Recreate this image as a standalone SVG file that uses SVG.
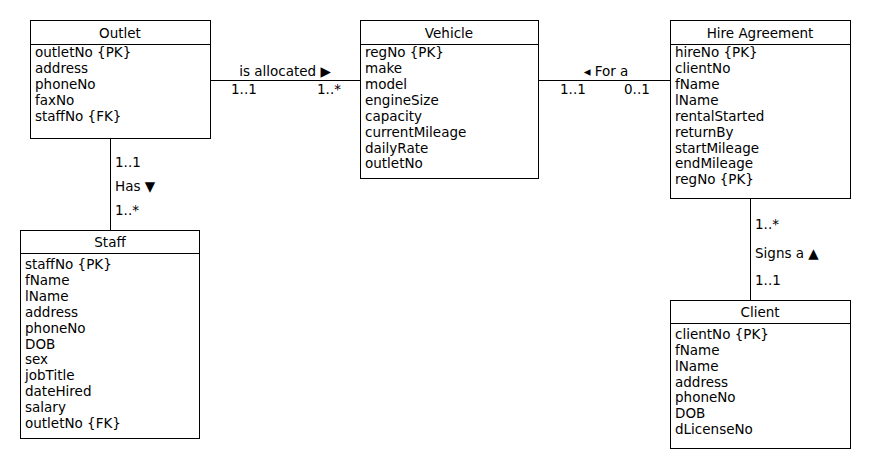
<svg xmlns="http://www.w3.org/2000/svg" width="870" height="470" viewBox="0 0 870 470">
<style>
  .box { fill: #ffffff; stroke: #000000; stroke-width: 1; }
  .ln { stroke: #000000; stroke-width: 1; fill: none; }
  text { font-family: "DejaVu Sans", "Liberation Sans", sans-serif; font-size: 13.5px; fill: #000000; }
  .t { text-anchor: middle; }
</style>
<rect width="870" height="470" fill="#ffffff"/>
<g id="connectors">
  <line class="ln" x1="210" y1="80.5" x2="360" y2="80.5"/>
  <line class="ln" x1="538" y1="80.5" x2="670" y2="80.5"/>
  <line class="ln" x1="110.5" y1="139" x2="110.5" y2="230"/>
  <line class="ln" x1="750.5" y1="198" x2="750.5" y2="300"/>
  <text x="285" y="76" class="t">is allocated ▶</text>
  <text x="231" y="94">1..1</text>
  <text x="317" y="94">1..*</text>
  <text x="606" y="76" class="t">◂ For a</text>
  <text x="560" y="94">1..1</text>
  <text x="624" y="94">0..1</text>
  <text x="115" y="167">1..1</text>
  <text x="115" y="191">Has ▼</text>
  <text x="115" y="215">1..*</text>
  <text x="755" y="229">1..*</text>
  <text x="755" y="258">Signs a ▲</text>
  <text x="755" y="285">1..1</text>
</g>
<g id="outlet">
  <rect class="box" x="30.5" y="20.5" width="180" height="118"/>
  <line class="ln" x1="30.5" y1="44.5" x2="210.5" y2="44.5"/>
  <text x="120" y="38" class="t">Outlet</text>
  <text x="35" y="57">outletNo {PK}</text>
  <text x="35" y="73">address</text>
  <text x="35" y="89">phoneNo</text>
  <text x="35" y="105">faxNo</text>
  <text x="35" y="121">staffNo {FK}</text>
</g>
<g id="vehicle">
  <rect class="box" x="360.5" y="20.5" width="178" height="158"/>
  <line class="ln" x1="360.5" y1="44.5" x2="538.5" y2="44.5"/>
  <text x="449" y="38" class="t">Vehicle</text>
  <text x="365" y="57">regNo {PK}</text>
  <text x="365" y="73">make</text>
  <text x="365" y="89">model</text>
  <text x="365" y="105">engineSize</text>
  <text x="365" y="121">capacity</text>
  <text x="365" y="137">currentMileage</text>
  <text x="365" y="153">dailyRate</text>
  <text x="365" y="168">outletNo</text>
</g>
<g id="hire-agreement">
  <rect class="box" x="670.5" y="20.5" width="180" height="178"/>
  <line class="ln" x1="670.5" y1="44.5" x2="850.5" y2="44.5"/>
  <text x="760" y="38" class="t">Hire Agreement</text>
  <text x="675" y="57">hireNo {PK}</text>
  <text x="675" y="73">clientNo</text>
  <text x="675" y="89">fName</text>
  <text x="675" y="105">lName</text>
  <text x="675" y="121">rentalStarted</text>
  <text x="675" y="137">returnBy</text>
  <text x="675" y="153">startMileage</text>
  <text x="675" y="168">endMileage</text>
  <text x="675" y="184">regNo {PK}</text>
</g>
<g id="staff">
  <rect class="box" x="20.5" y="230.5" width="179" height="208"/>
  <line class="ln" x1="20.5" y1="253.5" x2="199.5" y2="253.5"/>
  <text x="110" y="247" class="t">Staff</text>
  <text x="25" y="269">staffNo {PK}</text>
  <text x="25" y="285">fName</text>
  <text x="25" y="301">lName</text>
  <text x="25" y="317">address</text>
  <text x="25" y="333">phoneNo</text>
  <text x="25" y="349">DOB</text>
  <text x="25" y="364">sex</text>
  <text x="25" y="380">jobTitle</text>
  <text x="25" y="396">dateHired</text>
  <text x="25" y="412">salary</text>
  <text x="25" y="428">outletNo {FK}</text>
</g>
<g id="client">
  <rect class="box" x="670.5" y="300.5" width="180" height="148"/>
  <line class="ln" x1="670.5" y1="323.5" x2="850.5" y2="323.5"/>
  <text x="760" y="317" class="t">Client</text>
  <text x="675" y="339">clientNo {PK}</text>
  <text x="675" y="355">fName</text>
  <text x="675" y="371">lName</text>
  <text x="675" y="387">address</text>
  <text x="675" y="402">phoneNo</text>
  <text x="675" y="418">DOB</text>
  <text x="675" y="434">dLicenseNo</text>
</g>
</svg>
